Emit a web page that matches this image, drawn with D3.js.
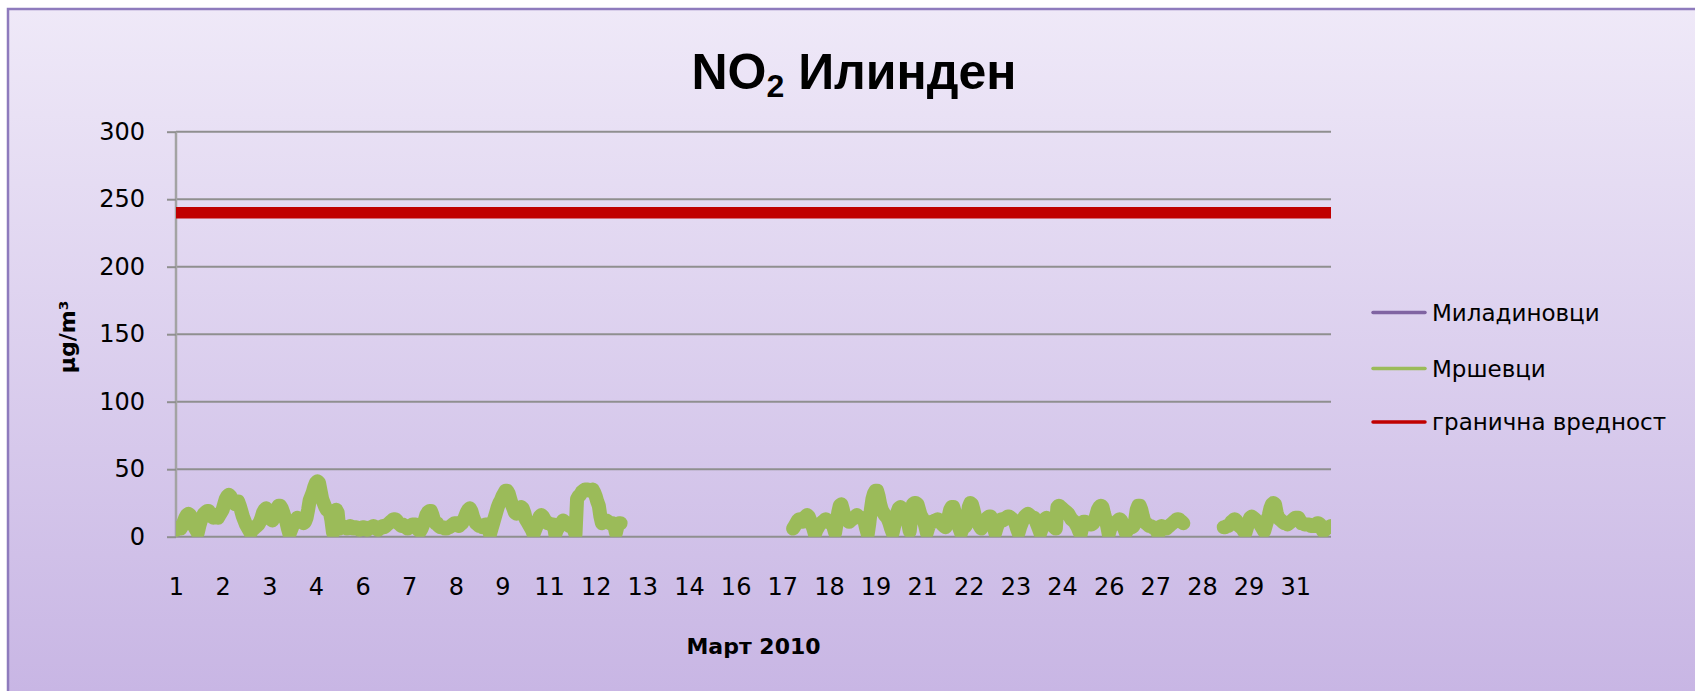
<!DOCTYPE html>
<html>
<head>
<meta charset="utf-8">
<script src="https://cdn.jsdelivr.net/npm/d3@7"></script>
<style>
  html, body { margin: 0; padding: 0; background: #ffffff; }
  svg { display: block; }
</style>
</head>
<body>
<svg id="chart" width="1695" height="691"></svg>
<script>
// ---------------- DATA ----------------
const chartTitle = "NO";
const chartTitleSub = "2";
const chartTitleRest = " Илинден";
const xAxisTitle = "Март 2010";
const yAxisTitle = "µg/m³";
const seriesNames = ["Миладиновци", "Мршевци", "гранична вредност"];
const seriesColors = ["#8064A2", "#9BBB59", "#C00000"];

const days = d3.range(1, 32);      // March 1..31
const hoursPerDay = 24;
const xTickEvery = 30;             // Excel label interval (categories)
const xTickLabels = ["1","2","3","4","6","7","8","9","11","12","13","14","16","17","18","19","21","22","23","24","26","27","28","29","31"];
const yTicks = [0, 50, 100, 150, 200, 250, 300];

// гранична вредност (limit value)
const limitValue = 240;

// Миладиновци: no measurements in this period
const miladinovciByDay = days.map(() => Array(24).fill(null));

// Мршевци hourly NO2 (µg/m³), one row per day, null = missing
const mrshevciByDay = [
  [5,6,7,6,8,11,14,16,17,16,13,9,7,5,3,8,12,15,17,18,19,19,17,15],
  [14,15,15,14,16,18,20,24,28,30,31,30,27,25,24,26,26,23,19,15,12,9,7,5],
  [3,5,6,7,8,9,11,14,18,20,21,19,15,13,12,14,18,21,23,23,21,18,14,11],
  [6,2,5,8,10,12,14,13,12,11,10,11,14,20,27,30,33,37,40,41,40,34,28,25],
  [22,20,19,18,12,3,19,20,18,6,7,8,7,7,6,7,8,7,6,7,7,6,5,6],
  [7,7,6,5,6,7,7,8,7,6,5,6,7,8,7,8,9,10,11,12,13,13,12,10],
  [9,8,9,8,7,6,7,8,9,9,9,7,5,4,6,9,12,16,18,19,19,16,12,10],
  [10,8,7,7,7,6,6,7,7,8,9,10,10,10,8,9,10,12,15,18,20,21,19,15],
  [12,10,9,8,8,7,8,9,9,7,2,6,10,14,18,22,25,27,30,32,34,34,32,28],
  [24,21,18,17,18,20,22,21,18,13,11,9,7,5,2,5,8,12,15,16,15,13,11,10],
  [10,9,9,9,2,5,7,9,10,12,11,10,9,8,8,7,5,2,28,30,31,33,34,35],
  [35,35,34,34,35,33,30,26,23,15,10,11,12,12,11,10,10,10,8,3,8,10,10,null],
  Array(24).fill(null),
  Array(24).fill(null),
  Array(24).fill(null),
  Array(24).fill(null),
  [...Array(13).fill(null),6,8,10,12,13,12,11,13,15,16,15],
  [12,9,6,2,5,7,9,10,11,12,13,12,11,10,10,7,3,10,18,23,24,20,15,13],
  [12,11,12,13,14,15,16,15,14,14,13,11,6,2,10,20,28,32,34,34,30,24,20,18],
  [16,15,13,10,6,3,8,13,18,21,22,21,18,16,15,10,4,15,24,25,25,24,20,16],
  [14,12,8,3,7,10,11,11,12,12,13,12,11,9,8,7,9,15,20,22,22,18,13,10],
  [6,3,6,7,8,14,22,25,24,20,15,12,10,8,6,8,10,12,14,15,15,13,8,3],
  [7,10,12,13,12,13,14,15,15,14,13,12,10,6,3,7,10,13,15,16,17,16,15,14],
  [14,12,9,6,3,6,10,13,14,13,12,11,9,7,6,22,23,22,21,20,19,18,17,15],
  [13,12,11,9,7,4,2,7,11,11,10,10,9,9,10,12,16,20,22,23,22,17,13,8],
  [2,6,8,9,10,11,12,13,12,9,6,3,5,6,7,7,8,12,20,23,23,20,15,11],
  [10,9,8,8,7,7,6,4,2,7,8,7,6,6,7,8,9,10,11,12,13,13,12,11],
  [10,...Array(23).fill(null)],
  [null,null,7,7,8,8,9,11,12,13,12,10,8,7,6,4,3,7,11,14,15,14,13,12],
  [11,10,8,6,4,8,12,16,21,24,25,24,18,14,13,12,11,10,10,9,10,11,12,13],
  [14,14,14,12,10,10,9,9,9,9,8,8,8,9,10,10,9,6,4,5,6,7,7,8]
];

// ---------------- BUILD ----------------
const categories = [];
days.forEach(d => { for (let h = 0; h < hoursPerDay; h++) categories.push({ day: d, hour: h }); });
const mrshevci = mrshevciByDay.flat();
const miladinovci = miladinovciByDay.flat();

const svg = d3.select("#chart");
const W = 1695, H = 691;
const plot = { left: 176, right: 1331, top: 131.7, bottom: 536.7 };

const defs = svg.append("defs");
const grad = defs.append("linearGradient").attr("id", "bg").attr("x1", 0).attr("y1", 0).attr("x2", 0).attr("y2", 1);
grad.append("stop").attr("offset", "0%").attr("stop-color", "#efe9f8");
grad.append("stop").attr("offset", "100%").attr("stop-color", "#c6b3e3");
defs.append("clipPath").attr("id", "plotclip").append("rect")
  .attr("x", plot.left).attr("y", plot.top)
  .attr("width", plot.right - plot.left).attr("height", plot.bottom - plot.top);

svg.append("rect").attr("width", W).attr("height", H).attr("fill", "#ffffff");
svg.append("rect").attr("x", 8).attr("y", 9).attr("width", 1720).attr("height", 720)
  .attr("fill", "url(#bg)").attr("stroke", "#8e7bbd").attr("stroke-width", 2.5);

const x = d3.scalePoint().domain(d3.range(categories.length)).range([plot.left, plot.right]).padding(0);
const y = d3.scaleLinear().domain([0, 300]).range([plot.bottom, plot.top]);

// gridlines
svg.append("g").selectAll("line").data(yTicks).join("line")
  .attr("x1", plot.left).attr("x2", plot.right)
  .attr("y1", d => y(d)).attr("y2", d => y(d))
  .attr("stroke", "#8f8f8f").attr("stroke-width", 2);

// y axis
const yAxis = svg.append("g").attr("transform", `translate(${plot.left},0)`)
  .call(d3.axisLeft(y).tickValues(yTicks).tickSize(9).tickPadding(22).tickFormat(d3.format("d")));
yAxis.select(".domain").attr("stroke", "#a3a3a3").attr("stroke-width", 2.5).attr("d", `M0,${plot.top}V${plot.bottom}`);
yAxis.selectAll(".tick line").attr("stroke", "#8f8f8f").attr("stroke-width", 2);
yAxis.selectAll(".tick text").attr("font-family", "DejaVu Sans").attr("font-size", 24).attr("fill", "#000");

// x axis
const xTickIdx = xTickLabels.map((_, k) => k * xTickEvery);
const xAxis = svg.append("g").attr("transform", `translate(0,${plot.bottom})`)
  .call(d3.axisBottom(x).tickValues(xTickIdx).tickSize(0).tickFormat((d, k) => xTickLabels[k]));
xAxis.select(".domain").remove();
xAxis.selectAll(".tick text").attr("font-family", "DejaVu Sans").attr("font-size", 24).attr("fill", "#000")
  .attr("y", 58.5).attr("dy", 0);

// series lines
const lineGen = d3.line().defined(d => d.v != null).x(d => x(d.i)).y(d => y(d.v));
const gLines = svg.append("g").attr("clip-path", "url(#plotclip)");
gLines.append("path").datum(miladinovci.map((v, i) => ({ i, v })))
  .attr("d", lineGen).attr("fill", "none").attr("stroke", seriesColors[0]).attr("stroke-width", 12);
gLines.append("path").datum(mrshevci.map((v, i) => ({ i, v })))
  .attr("d", lineGen).attr("fill", "none").attr("stroke", seriesColors[1]).attr("stroke-width", 14)
  .attr("stroke-linejoin", "round").attr("stroke-linecap", "round");
gLines.append("path").datum(categories.map((c, i) => ({ i, v: limitValue })))
  .attr("d", lineGen).attr("fill", "none").attr("stroke", seriesColors[2]).attr("stroke-width", 11.5);

// title
const title = svg.append("text").attr("x", 854).attr("y", 89).attr("text-anchor", "middle")
  .attr("font-family", "Liberation Sans").attr("font-weight", "bold").attr("font-size", 50).attr("fill", "#000");
title.append("tspan").text(chartTitle);
title.append("tspan").attr("font-size", 32).attr("dy", 8).text(chartTitleSub);
title.append("tspan").attr("dy", -8).text(chartTitleRest);

// axis titles
svg.append("text").attr("x", (plot.left + plot.right) / 2).attr("y", 654).attr("text-anchor", "middle")
  .attr("font-family", "DejaVu Sans").attr("font-weight", "bold").attr("font-size", 22).attr("fill", "#000")
  .text(xAxisTitle);
svg.append("text").attr("transform", "translate(75,337) rotate(-90)").attr("text-anchor", "middle")
  .attr("font-family", "DejaVu Sans").attr("font-weight", "bold").attr("font-size", 22).attr("fill", "#000")
  .text(yAxisTitle);

// legend
const legendY = [312.5, 368.5, 422];
const lg = svg.append("g").selectAll("g").data(seriesNames).join("g")
  .attr("transform", (d, k) => `translate(0,${legendY[k]})`);
lg.append("line").attr("x1", 1373).attr("x2", 1425).attr("y1", 0).attr("y2", 0)
  .attr("stroke", (d, k) => seriesColors[k]).attr("stroke-width", 3.5).attr("stroke-linecap", "round");
lg.append("text").attr("x", 1432).attr("y", 8).attr("font-family", "DejaVu Sans").attr("font-size", 23)
  .attr("fill", "#000").text(d => d);
</script>
</body>
</html>
